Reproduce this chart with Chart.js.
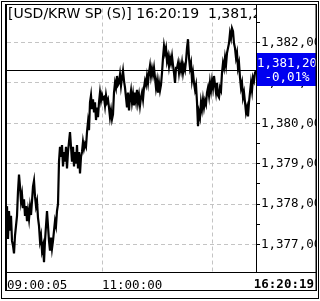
<!DOCTYPE html>
<html>
<head>
<meta charset="utf-8">
<script src="https://cdn.jsdelivr.net/npm/chart.js@4.4.1/dist/chart.umd.min.js"></script>
<style>
  html, body { margin: 0; padding: 0; background: #fff; }
  #wrap { width: 320px; height: 301px; }
</style>
</head>
<body>
<div id="wrap"><canvas id="myChart1" width="320" height="301"></canvas></div>
<script>
// USD/KRW spot, tick prices 09:00:05 .. 16:20:19
const prices = [
    1377.95, 1377.14, 1377.83, 1377.34, 1377.71, 1377.09,
    1376.97, 1376.78, 1377.22, 1377.46, 1377.71,
    1378.32, 1378.73, 1378.44,
    1378.07, 1378.24, 1377.90, 1378.12,
    1377.71, 1377.95, 1377.58, 1377.83, 1377.63, 1377.93, 1377.73, 1378.07,
    1378.44, 1378.58,
    1378.19, 1377.95, 1378.07, 1377.66,
    1377.46, 1377.09, 1377.22, 1376.85, 1376.97, 1376.56,
    1377.09, 1377.46, 1377.83, 1377.46,
    1377.09, 1376.85, 1377.17, 1376.90, 1377.09,
    1377.34, 1377.58, 1377.46, 1377.83, 1378.00,
    1379.05, 1379.42, 1379.17, 1379.46, 1378.93, 1379.29, 1379.05, 1379.42, 1378.88, 1379.29,
    1379.54, 1379.78, 1379.42,
    1379.05, 1379.42, 1378.93, 1379.29, 1379.00, 1379.46, 1378.88, 1379.29, 1378.76, 1379.17,
    1379.29, 1379.54, 1379.37, 1379.49, 1379.42,
    1379.78, 1380.03, 1379.83,
    1380.52, 1380.69, 1380.35, 1380.59,
    1380.27, 1380.52, 1380.08, 1380.39, 1380.15,
    1380.52, 1380.76, 1380.56, 1380.71, 1380.61,
    1380.64, 1380.44, 1380.69, 1380.52, 1380.59,
    1380.39, 1380.15, 1380.32, 1380.10, 1380.22,
    1380.76, 1381.00, 1380.88, 1381.17, 1380.95,
    1381.00, 1381.20, 1380.93, 1381.13, 1381.30, 1381.05,
    1380.88, 1380.64, 1380.39, 1380.76, 1380.32,
    1380.64, 1380.81, 1380.52, 1380.71, 1380.44, 1380.76, 1380.56, 1380.83, 1380.52, 1380.69, 1380.44, 1380.64, 1380.76, 1380.59,
    1380.88, 1381.05, 1380.95, 1381.17, 1381.00,
    1381.25, 1381.42, 1381.17, 1381.35, 1381.20, 1381.37,
    1381.13, 1380.88, 1381.05, 1380.76, 1381.00, 1380.81, 1380.95,
    1381.25, 1381.62, 1381.91, 1381.74, 1381.86,
    1381.54, 1381.66, 1381.42, 1381.62, 1381.49, 1381.66, 1381.44,
    1381.25, 1381.00, 1381.37,
    1381.37, 1381.49, 1381.25, 1381.44, 1381.30, 1381.49, 1381.25, 1381.42, 1381.32, 1381.54,
    1381.86, 1382.08,
    1381.62, 1381.37, 1381.49, 1381.08, 1381.25,
    1381.00, 1380.83, 1380.95,
    1380.52, 1379.93, 1380.27,
    1380.15, 1380.52, 1380.35, 1380.59, 1380.39, 1380.56, 1380.47,
    1380.76, 1380.88, 1380.69, 1381.00, 1380.81, 1381.05, 1380.88, 1381.17, 1380.95, 1380.76, 1381.00, 1380.69,
    1380.64, 1380.88, 1380.81,
    1381.25, 1381.49, 1381.37, 1381.62, 1381.44, 1381.74, 1381.86,
    1381.98, 1382.23, 1382.11, 1382.35, 1382.28, 1381.98,
    1381.86, 1381.62, 1381.74, 1381.37, 1381.49,
    1381.13, 1380.88, 1381.00, 1380.64, 1380.76,
    1380.52, 1380.27, 1380.39, 1380.17, 1380.52,
    1380.76, 1381.00, 1380.81, 1381.13, 1381.05, 1381.25, 1381.30
];

// x tick positions (tick index) and their labels
const timeTicks = [0, 95, 205];
const timeLabels = ['09:00:05', '11:00:00', ''];
const lastTime = '16:20:19';

const yMin = 1376.32;
const yMax = 1382.84;
const refLine = 1381.32;

const title = '[USD/KRW SP (S)] 16:20:19  1,381,20';
const lastPrice = '1,381,20';
const lastChange = '-0,01%';

const monoFont = 'DejaVu Sans Mono';

function fmt(v) {
    const s = v.toFixed(2);
    const ip = s.split('.')[0];
    return ip.replace(/\B(?=(\d{3})+(?!\d))/g, ',') + ',' + s.split('.')[1];
}

const framePlugin = {
    id: 'frame',
    afterDatasetsDraw(chart) {
        const ctx = chart.ctx;
        const y = chart.scales.y;
        const area = chart.chartArea;
        const py = Math.round(y.getPixelForValue(refLine)) + 0.5;
        ctx.save();
        ctx.strokeStyle = '#000';
        ctx.lineWidth = 1;
        ctx.beginPath();
        ctx.moveTo(area.left, py);
        ctx.lineTo(area.right, py);
        ctx.stroke();
        ctx.restore();
    },
    afterDraw(chart) {
        const ctx = chart.ctx;
        const area = chart.chartArea;
        ctx.save();

        // title, clipped to the plot
        ctx.save();
        ctx.beginPath();
        ctx.rect(area.left, 0, area.right - area.left, 40);
        ctx.clip();
        ctx.fillStyle = '#000';
        ctx.font = '14px "DejaVu Sans"';
        ctx.textAlign = 'left';
        ctx.textBaseline = 'alphabetic';
        ctx.fillText(title, 8, 18);
        ctx.restore();

        // last price box
        ctx.fillStyle = '#0000f0';
        ctx.fillRect(256, 53, 60, 33);
        ctx.fillStyle = '#fff';
        ctx.font = '12.5px "' + monoFont + '"';
        ctx.textAlign = 'center';
        ctx.fillText(lastPrice, 287, 67);
        ctx.fillText(lastChange, 287, 81);

        // last time, bold
        ctx.fillStyle = '#000';
        ctx.font = 'bold 12.5px "' + monoFont + '"';
        ctx.textAlign = 'right';
        ctx.fillText(lastTime, 314, 288);

        // clip labels at the right border
        ctx.fillStyle = '#fff';
        ctx.fillRect(317, 0, 3, 301);

        ctx.strokeStyle = '#000';
        ctx.lineWidth = 1;
        ctx.strokeRect(1.5, 1.5, 317, 297);
        ctx.strokeRect(5.5, 4.5, 310.5, 286);
        ctx.beginPath();
        ctx.moveTo(6.5, 5); ctx.lineTo(6.5, 291);
        ctx.moveTo(5, 290.5); ctx.lineTo(317, 290.5);
        ctx.moveTo(316.5, 4); ctx.lineTo(316.5, 291);
        ctx.moveTo(6, 272.5); ctx.lineTo(316, 272.5);
        ctx.moveTo(256.5, 5); ctx.lineTo(256.5, 273);
        ctx.stroke();
        ctx.restore();
    }
};

new Chart(document.getElementById('myChart1'), {
    type: 'line',
    data: {
        labels: prices.map((p, i) => i),
        datasets: [{
            data: prices.map((p, i) => ({ x: i, y: p })),
            borderColor: '#000',
            borderWidth: 2.2,
            pointRadius: 0,
            tension: 0
        }]
    },
    options: {
        responsive: false,
        animation: false,
        devicePixelRatio: 1,
        layout: { padding: { left: 7, top: 5, right: 4, bottom: 11 } },
        plugins: {
            legend: { display: false },
            tooltip: { enabled: false }
        },
        scales: {
            x: {
                type: 'linear',
                min: 0,
                max: prices.length - 1,
                afterBuildTicks: (scale) => {
                    scale.ticks = timeTicks.map(v => ({ value: v }));
                },
                afterFit: (scale) => { scale.height = 18; },
                grid: {
                    color: (c) => (c.tick && c.tick.value > 0) ? '#c4c4c4' : 'rgba(0,0,0,0)',
                    drawTicks: false
                },
                border: { display: false, dash: [4, 3] },
                ticks: {
                    autoSkip: false,
                    maxRotation: 0,
                    align: 'start',
                    padding: 6,
                    color: '#000',
                    font: { family: monoFont, size: 12.5 },
                    callback: (v) => timeLabels[timeTicks.indexOf(v)]
                }
            },
            y: {
                position: 'right',
                min: yMin,
                max: yMax,
                afterBuildTicks: (scale) => {
                    const t = [];
                    for (let v = 1377; v <= 1382.5; v += 0.5) t.push({ value: v });
                    scale.ticks = t;
                },
                afterFit: (scale) => { scale.width = 60; },
                grid: {
                    color: (c) => (c.tick && c.tick.value % 1 === 0) ? '#c4c4c4' : 'rgba(0,0,0,0)',
                    tickColor: '#000',
                    tickLength: 4,
                    tickBorderDash: []
                },
                border: { display: false, dash: [4, 3] },
                ticks: {
                    padding: 1,
                    color: '#000',
                    font: { family: monoFont, size: 12.5 },
                    callback: (v) => (v % 1 === 0 ? fmt(v) : '')
                }
            }
        }
    },
    plugins: [framePlugin]
});
</script>
</body>
</html>
